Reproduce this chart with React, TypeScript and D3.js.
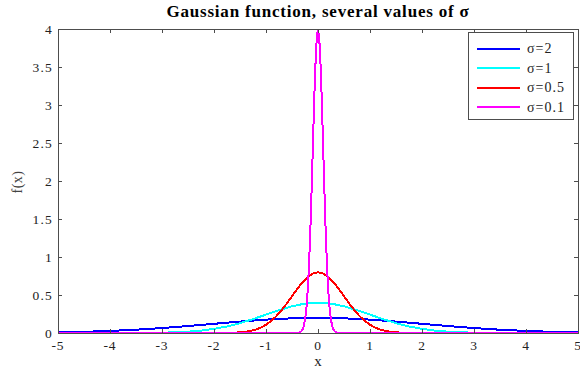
import React from "react";
import * as d3 from "d3";

const xTicks = [-5, -4, -3, -2, -1, 0, 1, 2, 3, 4, 5];
const yTicks = [0, 0.5, 1, 1.5, 2, 2.5, 3, 3.5, 4];
const yTickLabels = ["0", "0.5", "1", "1.5", "2", "2.5", "3", "3.5", "4"];

const seriesNames = ["σ=2", "σ=1", "σ=0.5", "σ=0.1"];
const seriesColors = ["#0000ff", "#00ffff", "#ff0000", "#ff00ff"];

const xS2 = [-5, -4.5, -4, -3.5, -3, -2.5, -2, -1.5, -1, -0.5, 0, 0.5, 1, 1.5, 2, 2.5, 3, 3.5, 4, 4.5, 5];
const yS2 = [0.0088, 0.0159, 0.027, 0.0431, 0.0648, 0.0913, 0.121, 0.1506, 0.176, 0.1933, 0.1995, 0.1933, 0.176, 0.1506, 0.121, 0.0913, 0.0648, 0.0431, 0.027, 0.0159, 0.0088];

const xS1 = [-5, -4.5, -4, -3.5, -3, -2.75, -2.5, -2.25, -2, -1.75, -1.5, -1.25, -1, -0.75, -0.5, -0.25, 0, 0.25, 0.5, 0.75, 1, 1.25, 1.5, 1.75, 2, 2.25, 2.5, 2.75, 3, 3.5, 4, 4.5, 5];
const yS1 = [0, 0, 0.0001, 0.0009, 0.0044, 0.0091, 0.0175, 0.0317, 0.054, 0.0863, 0.1295, 0.1826, 0.242, 0.3011, 0.3521, 0.3867, 0.3989, 0.3867, 0.3521, 0.3011, 0.242, 0.1826, 0.1295, 0.0863, 0.054, 0.0317, 0.0175, 0.0091, 0.0044, 0.0009, 0.0001, 0, 0];

const xS05 = [-5, -4, -3, -2.5, -2, -1.8, -1.6, -1.5, -1.4, -1.3, -1.2, -1.1, -1, -0.9, -0.8, -0.7, -0.6, -0.5, -0.4, -0.3, -0.2, -0.1, 0, 0.1, 0.2, 0.3, 0.4, 0.5, 0.6, 0.7, 0.8, 0.9, 1, 1.1, 1.2, 1.3, 1.4, 1.5, 1.6, 1.8, 2, 2.5, 3, 4, 5];
const yS05 = [0, 0, 0, 0, 0.0003, 0.0012, 0.0048, 0.0089, 0.0158, 0.0271, 0.0448, 0.0709, 0.108, 0.1579, 0.2218, 0.2995, 0.3884, 0.4839, 0.5794, 0.6664, 0.7365, 0.7821, 0.7979, 0.7821, 0.7365, 0.6664, 0.5794, 0.4839, 0.3884, 0.2995, 0.2218, 0.1579, 0.108, 0.0709, 0.0448, 0.0271, 0.0158, 0.0089, 0.0048, 0.0012, 0.0003, 0, 0, 0, 0];

const xS01 = [-5, -1, -0.5, -0.4, -0.36, -0.34, -0.32, -0.3, -0.28, -0.26, -0.24, -0.22, -0.2, -0.18, -0.16, -0.14, -0.12, -0.1, -0.08, -0.06, -0.04, -0.02, 0, 0.02, 0.04, 0.06, 0.08, 0.1, 0.12, 0.14, 0.16, 0.18, 0.2, 0.22, 0.24, 0.26, 0.28, 0.3, 0.32, 0.34, 0.36, 0.4, 0.5, 1, 5];
const yS01 = [0, 0, 0, 0.001, 0.006, 0.012, 0.024, 0.044, 0.079, 0.136, 0.224, 0.355, 0.54, 0.79, 1.109, 1.497, 1.942, 2.42, 2.897, 3.332, 3.683, 3.91, 3.989, 3.91, 3.683, 3.332, 2.897, 2.42, 1.942, 1.497, 1.109, 0.79, 0.54, 0.355, 0.224, 0.136, 0.079, 0.044, 0.024, 0.012, 0.006, 0.001, 0, 0, 0];

const seriesX = [xS2, xS1, xS05, xS01];
const seriesY = [yS2, yS1, yS05, yS01];

const W = 580;
const H = 372;
const L = 58, R = 578, T = 29, B = 333;
const FONT = "'Liberation Serif', 'Times New Roman', Times, serif";
const AXIS = "#4d4d4d";

export default function App() {
  const x = d3.scaleLinear().domain([-5, 5]).range([L, R]);
  const y = d3.scaleLinear().domain([0, 4]).range([B, T]);
  const line = d3.line<[number, number]>().x((d) => x(d[0])).y((d) => y(d[1]));

  const legX = 468, legY = 32, legW = 105, legH = 87;

  return (
    <svg width={W} height={H} style={{ position: "absolute", left: 0, top: 0, background: "#fff", fontFamily: FONT }}>
      <rect x={0} y={0} width={W} height={H} fill="#fff" />
      <text x={318} y={17} textAnchor="middle" fontSize={17} fontWeight="bold" letterSpacing={0.8} fill="#000">
        Gaussian function, several values of σ
      </text>
      <defs>
        <clipPath id="clip">
          <rect x={L - 1} y={T - 1} width={R - L + 2} height={B - T + 2} />
        </clipPath>
      </defs>
      <g clipPath="url(#clip)">
        {seriesX.map((xs, i) => (
          <path
            key={i}
            d={line(xs.map((v, j) => [v, seriesY[i][j]] as [number, number])) || ""}
            fill="none"
            stroke={seriesColors[i]}
            strokeWidth={2}
            shapeRendering="crispEdges"
          />
        ))}
      </g>
      <rect x={L} y={T} width={R - L} height={B - T} fill="none" stroke={AXIS} strokeWidth={1} shapeRendering="crispEdges" />
      {xTicks.map((t) => (
        <g key={"x" + t}>
          <line x1={x(t)} x2={x(t)} y1={B} y2={B - 4} stroke={AXIS} shapeRendering="crispEdges" />
          <line x1={x(t)} x2={x(t)} y1={T} y2={T + 4} stroke={AXIS} shapeRendering="crispEdges" />
          <text x={x(t)} y={350} textAnchor="middle" fontSize={13.5} letterSpacing={0.8} fill="#222">
            {String(t)}
          </text>
        </g>
      ))}
      {yTicks.map((t, i) => (
        <g key={"y" + t}>
          <line x1={L} x2={L + 4} y1={y(t)} y2={y(t)} stroke={AXIS} shapeRendering="crispEdges" />
          <line x1={R} x2={R - 4} y1={y(t)} y2={y(t)} stroke={AXIS} shapeRendering="crispEdges" />
          <text x={53} y={y(t) + 4.5} textAnchor="end" fontSize={13.5} letterSpacing={1.2} fill="#222">
            {yTickLabels[i]}
          </text>
        </g>
      ))}
      <text x={318} y={366} textAnchor="middle" fontSize={15} fill="#222">x</text>
      <text transform={`translate(22,182) rotate(-90)`} textAnchor="middle" fontSize={14} letterSpacing={0.5} fill="#444">f(x)</text>
      <rect x={legX} y={legY} width={legW} height={legH} fill="#fff" stroke={AXIS} shapeRendering="crispEdges" />
      {seriesNames.map((n, i) => {
        const ly = 48.5 + i * 19.6;
        return (
          <g key={n}>
            <line x1={477} x2={520} y1={ly} y2={ly} stroke={seriesColors[i]} strokeWidth={2} shapeRendering="crispEdges" />
            <text x={527} y={ly + 4.5} fontSize={14} letterSpacing={1} fill="#222">{n}</text>
          </g>
        );
      })}
    </svg>
  );
}
